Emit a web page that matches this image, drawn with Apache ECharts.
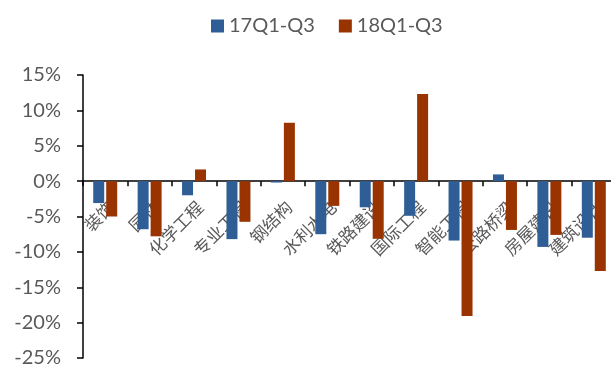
<!DOCTYPE html>
<html>
<head>
<meta charset="utf-8">
<script src="https://cdn.jsdelivr.net/npm/echarts@6/dist/echarts.min.js"></script>
<style>
  html, body { margin: 0; padding: 0; background: #ffffff; }
  #chart { width: 611px; height: 365px; }
</style>
</head>
<body>
<div id="chart"></div>
<script>
// Year-over-year growth by construction sub-sector (%)
const categories = ['装饰', '园林', '化学工程', '专业工程', '钢结构', '水利水电', '铁路建设', '国际工程', '智能工程', '公路桥梁', '房屋建设', '建筑设计'];
const seriesNames = ['17Q1-Q3', '18Q1-Q3'];
const values17 = [-3.1, -6.8, -2.0, -8.2, -0.2, -7.5, -3.7, -4.9, -8.4, 0.95, -9.3, -8.0];
const values18 = [-5.0, -7.8, 1.65, -5.75, 8.25, -3.5, -8.15, 12.3, -19.05, -6.9, -7.6, -12.7];
const yTicks = { min: -25, max: 15, step: 5 };

const latin = 'Lato, "Liberation Sans", sans-serif';
const cjk = '"Noto Sans CJK SC", sans-serif';

// plot area geometry
const gridTop = 75;
const gridBottom = 7;
const plotHeight = 365 - gridTop - gridBottom;
// lift the category axis (line, ticks and labels) from the bottom edge up to the 0% line
const zeroOffset = -plotHeight * (0 - yTicks.min) / (yTicks.max - yTicks.min);

const chart = echarts.init(document.getElementById('chart'), null, { renderer: 'canvas' });
chart.setOption({
  animation: false,
  backgroundColor: '#ffffff',
  color: ['#2E5E95', '#993300'],
  legend: {
    data: seriesNames,
    left: 206,
    top: 11,
    icon: 'rect',
    itemWidth: 13,
    itemHeight: 13,
    itemGap: 24,
    textStyle: { fontFamily: latin, fontSize: 20, color: '#595959' }
  },
  grid: { left: 83, top: gridTop, width: 533, bottom: gridBottom, containLabel: false, outerBoundsMode: 'none' },
  xAxis: {
    type: 'category',
    data: categories,
    position: 'bottom',
    offset: zeroOffset,
    axisLine: { onZero: false, lineStyle: { color: '#000000', width: 1.5 } },
    axisTick: { show: true, inside: false, length: 5, alignWithLabel: false, lineStyle: { color: '#000000', width: 1.5 } },
    axisLabel: {
      interval: 0,
      rotate: 45,
      margin: 17,
      align: 'right',
      verticalAlign: 'top',
      fontFamily: cjk,
      fontSize: 17,
      color: '#595959'
    },
    splitLine: { show: false }
  },
  yAxis: {
    type: 'value',
    min: yTicks.min,
    max: yTicks.max,
    interval: yTicks.step,
    axisLine: { show: true, lineStyle: { color: '#000000', width: 1.5 } },
    axisTick: { show: true, inside: false, length: 6, lineStyle: { color: '#000000', width: 1.5 } },
    axisLabel: {
      formatter: '{value}%',
      margin: 22,
      fontFamily: latin,
      fontSize: 20,
      color: '#595959'
    },
    splitLine: { show: false }
  },
  series: [
    {
      name: seriesNames[0],
      type: 'bar',
      data: values17,
      barWidth: 11,
      barGap: '18%',
      itemStyle: { color: '#2E5E95' }
    },
    {
      name: seriesNames[1],
      type: 'bar',
      data: values18,
      barWidth: 11,
      itemStyle: { color: '#993300' }
    }
  ]
});
</script>
</body>
</html>
